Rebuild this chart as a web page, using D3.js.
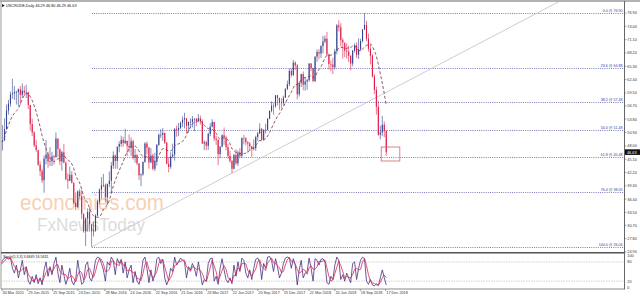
<!DOCTYPE html>
<html><head><meta charset="utf-8">
<script src="https://cdn.jsdelivr.net/npm/d3@7"></script>
<style>html,body{margin:0;padding:0;background:#fff;overflow:hidden}svg{display:block}</style>
</head><body><svg id="c" width="640" height="298"></svg>
<script>
// ---------- DATA (weekly bars) ----------
const title = "USCRUDE,Daily  46.29 46.80 46.29 46.63";
const firstWeek = "2015-03-23";
const firstOpen = 46.7;
const closes = [
48.9,49.1,51.6,55.7,57.2,59.2,59.4,59.7,59.7,60.3,
59.1,60.0,59.6,59.6,56.9,52.7,50.9,48.1,47.1,43.9,
42.5,40.5,45.2,46.1,44.6,44.7,45.7,45.5,49.6,47.3,
44.6,46.6,44.3,40.7,40.4,41.7,40.0,35.6,34.7,38.1,
37.0,33.2,29.4,32.2,33.6,30.9,29.4,29.6,32.8,35.9,
38.5,39.4,39.5,36.8,39.7,40.4,43.7,45.9,44.7,47.8,
48.4,49.3,48.6,49.1,48.0,47.6,49.0,45.4,46.0,44.2,
41.6,41.8,44.5,48.5,47.6,44.4,45.9,43.0,44.5,48.2,
50.4,50.4,50.8,48.7,44.1,43.4,45.7,46.1,51.7,51.5,
51.9,53.0,53.7,54.0,52.4,53.2,53.2,53.8,53.9,53.4,
54.0,53.3,48.5,48.8,48.0,50.6,52.2,53.2,49.6,49.3,
46.2,47.8,50.3,49.8,47.7,45.8,44.7,43.0,46.0,44.2,
46.5,45.8,49.7,49.6,48.8,48.5,47.9,47.3,47.5,49.9,
50.7,51.7,49.3,51.5,51.5,53.9,55.6,56.7,56.6,59.0,
58.4,57.4,57.3,58.5,60.4,61.4,64.3,63.4,66.1,65.5,
59.2,61.7,63.6,61.3,62.0,62.3,65.9,64.9,62.1,67.4,
68.4,68.1,69.7,70.7,71.3,67.9,65.8,65.7,65.1,68.6,
74.2,73.8,71.0,70.5,68.7,68.5,67.6,65.9,68.7,69.8,
67.8,69.0,70.8,73.3,74.3,71.3,69.1,67.6,63.1,60.2,
56.5,50.4,50.9,52.6,51.2,46.6];
const highs = [
52.5,52.5,54.0,57.0,58.0,59.8,62.6,61.0,60.0,60.5,
61.0,61.6,61.0,61.3,59.8,56.9,53.9,51.2,49.2,47.0,
44.6,43.0,45.9,49.3,46.7,47.7,46.7,46.0,50.9,49.6,
47.4,46.9,48.4,44.6,42.0,43.5,42.5,40.0,37.9,38.3,
38.6,38.4,33.3,32.4,34.4,34.5,30.9,31.5,33.2,36.3,
38.7,41.2,41.9,39.8,39.8,42.4,44.5,46.8,46.1,47.9,
49.0,50.2,50.0,51.7,49.1,50.5,49.8,49.3,47.3,46.2,
44.2,42.0,44.6,48.8,48.9,47.8,47.5,46.3,46.5,48.4,
50.7,51.6,51.9,50.9,48.8,45.6,46.6,48.5,51.8,52.4,
53.0,53.3,54.4,55.2,54.0,53.3,54.0,54.5,54.0,54.0,
54.9,54.6,53.8,49.2,49.1,50.9,52.9,53.8,53.2,50.2,
49.4,48.0,50.5,52.0,50.2,48.4,46.9,44.9,46.3,47.3,
47.0,47.5,49.8,50.4,49.9,49.0,48.8,48.0,49.4,50.2,
51.0,52.9,51.9,51.6,52.8,54.0,55.7,57.7,57.3,59.0,
59.1,58.5,58.3,58.9,60.5,62.2,64.8,64.9,66.7,66.4,
65.8,61.9,63.7,64.2,63.0,62.6,66.0,66.0,65.0,67.5,
69.0,69.0,69.9,71.9,72.0,72.8,68.1,66.6,67.2,69.1,
74.5,75.3,74.7,71.4,70.0,70.3,69.8,67.7,68.9,70.3,
70.5,71.4,71.3,73.4,76.9,75.2,72.4,70.0,68.0,63.6,
60.9,57.8,52.4,54.5,53.3,51.4];
const lows = [
46.7,47.0,49.6,51.5,54.8,56.5,58.2,58.0,57.0,56.6,
57.0,58.4,58.9,58.4,56.0,51.3,50.1,47.7,46.7,43.6,
41.4,39.9,37.8,44.0,43.2,43.6,43.6,43.9,45.5,45.5,
43.8,42.6,44.3,40.6,38.6,40.3,39.8,35.3,34.0,34.5,
36.4,32.1,29.1,26.2,29.3,29.3,26.05,28.3,29.3,32.6,
35.3,36.5,39.0,35.7,35.2,39.0,37.6,43.0,43.0,43.0,
46.6,47.8,47.8,48.4,45.8,46.6,45.8,45.0,44.3,43.8,
40.6,39.2,41.5,44.3,46.1,43.0,44.2,42.7,42.5,43.7,
48.0,49.7,49.1,48.4,44.0,42.2,43.0,45.3,44.8,50.0,
50.1,51.6,52.1,51.8,50.7,50.9,51.8,52.0,51.2,52.3,
53.1,52.6,48.4,47.1,47.0,47.1,50.1,52.0,49.0,48.2,
43.8,45.3,47.7,48.2,47.0,45.2,44.3,42.05,42.9,43.8,
43.6,45.4,45.4,48.3,48.1,46.5,47.0,45.6,47.0,46.9,
49.1,50.6,49.1,49.2,50.7,51.3,53.8,55.3,54.8,56.3,
56.8,55.8,56.1,56.9,58.4,60.1,61.0,62.9,63.2,64.5,
58.1,58.7,60.8,60.1,60.0,60.2,61.9,64.2,61.8,61.9,
66.3,66.8,67.1,68.1,70.3,67.5,64.6,64.2,63.6,64.6,
67.9,72.9,69.6,67.0,67.3,67.0,66.2,64.4,65.3,68.3,
67.1,66.9,68.6,70.5,73.2,70.8,68.5,65.7,62.9,59.3,
54.8,50.2,49.4,50.1,49.9,45.8];
const stochK = [
70,85,92,95,88,93,60,45,70,30,55,85,40,65,
20,10,35,15,40,12,30,8,55,
80,35,65,40,75,95,45,15,70,40,
10,30,60,20,8,25,85,45,10,15,70,80,30,20,
45,85,95,92,75,55,20,80,70,95,85,40,90,75,88,45,80,
30,55,70,15,50,20,10,35,
85,95,60,15,55,20,40,90,95,75,88,
30,8,25,60,50,
95,70,80,92,85,80,30,65,55,75,60,35,80,45,
8,25,20,75,90,92,20,35,10,60,90,55,25,15,30,12,
70,35,80,50,92,85,45,30,55,25,60,88,92,80,
25,75,60,95,97,85,50,90,65,30,45,75,92,95,93,60,90,70,
8,55,85,30,45,50,92,60,20,
90,85,70,88,90,80,15,10,35,25,70,
95,85,25,40,20,45,30,15,75,80,25,60,85,95,
90,20,10,25,8,5,12,6,30,55,30,8];
const stochLabel = "Stoch(5,3,3) 3.6849 16.5631";
const priceTicks = ["76.90","74.00","71.10","68.20","65.30","62.40","59.50","56.70","53.80","50.90","48.00","45.10","42.20","39.30","36.40","33.50","30.70","27.80","24.90"];
const fibLevels = [0.0, 23.6, 38.2, 50.0, 61.8, 76.4, 100.0];
const fibPrices = [76.90, 64.88, 57.48, 51.48, 45.48, 38.05, 26.04];
const fibStart = "2016-02-11";
const trendA = {date:"2016-02-11", price:26.05};
const trendB = {date:"2017-06-21", price:42.05};
const boxFrom = "2018-12-01", boxTo = "2019-02-05", boxHi = 47.74, boxLo = 44.70;
const lastPrice = 46.63;
const dateLabels = ["30 Mar 2015","29 Jun 2015","25 Sep 2015","24 Dec 2015","28 Mar 2016","24 Jun 2016","22 Sep 2016","21 Dec 2016","23 Mar 2017","22 Jun 2017","20 Sep 2017","19 Dec 2017","21 Mar 2018","20 Jun 2018","18 Sep 2018","17 Dec 2018"];
const stochTicks = [100, 80, 20, 0];
const stochLevels = [80, 20];
const maPeriod = 10;

// ---------- BUILD ----------
const parse = d3.timeParse("%Y-%m-%d");
const parseLbl = d3.timeParse("%d %b %Y");
const w0 = parse(firstWeek);
const bars = closes.map((c,i)=>({
  date: d3.timeDay.offset(w0, i*7+2),
  open: i===0 ? firstOpen : closes[i-1],
  high: highs[i], low: lows[i], close: c
}));
const ma = bars.map((b,i)=>{
  const s = closes.slice(Math.max(0,i-maPeriod+1), i+1);
  return {date:b.date, v:d3.mean(s)};
});
const stoch = stochK.map((k,i)=>({date:bars[i].date, k, d:d3.mean(stochK.slice(Math.max(0,i-2), i+1))}));

const svg = d3.select("#c");
const FONT = "'Liberation Sans', Arial, sans-serif";
const FS = 3.8;
const x = d3.scaleTime().domain([parse("2015-03-23"), parse("2018-12-17")]).range([0, 385.7]);
const y = d3.scaleLinear().domain([24.9, 76.9]).range([252, 13]);
const ys = d3.scaleLinear().domain([0, 100]).range([287.5, 255.5]);
const RIGHT = 624.5;

svg.append("rect").attr("width",640).attr("height",298).attr("fill","#fff");
const defs = svg.append("defs");
defs.append("clipPath").attr("id","mainclip").append("rect").attr("x",1.5).attr("y",2).attr("width",RIGHT-1.5).attr("height",250);
defs.append("clipPath").attr("id","subclip").append("rect").attr("x",1.5).attr("y",253.5).attr("width",RIGHT-1.5).attr("height",35);

// watermark
svg.append("text").attr("x",20).attr("y",210).attr("font-family",FONT).attr("font-size",22)
  .attr("fill","#f8d0b4").attr("textLength",144).attr("lengthAdjust","spacingAndGlyphs").text("economies.com");
svg.append("text").attr("x",37).attr("y",231).attr("font-family",FONT).attr("font-size",18)
  .attr("fill","#dcdcdc").attr("textLength",108).attr("lengthAdjust","spacingAndGlyphs").text("FxNewsToday");

const main = svg.append("g").attr("clip-path","url(#mainclip)");

// fib lines
main.selectAll(".fib").data(fibPrices).join("line")
  .attr("x1", x(parse(fibStart))).attr("x2", RIGHT)
  .attr("y1", d=>Math.round(y(d))+0.5).attr("y2", d=>Math.round(y(d))+0.5)
  .attr("stroke","#5a5aaa").attr("stroke-width",0.8).attr("stroke-dasharray","1,1.2");
main.selectAll(".fibl").data(fibPrices).join("text")
  .attr("x", RIGHT-2).attr("y", d=>Math.round(y(d))-0.6)
  .attr("text-anchor","end").attr("font-family",FONT).attr("font-size",3.6).attr("fill","#35359a")
  .text((d,i)=>`${fibLevels[i].toFixed(1)} @ ${d.toFixed(2)}`);

// trend line
const tA = parse(trendA.date), tB = parse(trendB.date);
const slope = (trendB.price - trendA.price)/(tB - tA);
const tEnd = parse("2021-06-01");
main.append("line")
  .attr("x1", x(tA)).attr("y1", y(trendA.price))
  .attr("x2", x(tEnd)).attr("y2", y(trendA.price + slope*(tEnd - tA)))
  .attr("stroke","#c8c8c8").attr("stroke-width",0.9);

// candles
const bullC = "#34438f", bearC = "#dc1c46";
main.selectAll(".wick").data(bars).join("line")
  .attr("x1", d=>x(d.date)).attr("x2", d=>x(d.date))
  .attr("y1", d=>y(d.high)).attr("y2", d=>y(d.low))
  .attr("stroke", d=>d.close>=d.open?bullC:bearC).attr("stroke-width",0.6);
main.selectAll(".body").data(bars).join("rect")
  .attr("x", d=>x(d.date)-0.55).attr("width",1.1)
  .attr("y", d=>y(Math.max(d.open,d.close)))
  .attr("height", d=>Math.max(0.6, Math.abs(y(d.open)-y(d.close))))
  .attr("fill", d=>d.close>=d.open?bullC:bearC);

// moving average dashed
main.append("path").datum(ma)
  .attr("d", d3.line().x(d=>x(d.date)).y(d=>y(d.v)).curve(d3.curveMonotoneX))
  .attr("fill","none").attr("stroke","#7d4656").attr("stroke-width",0.9).attr("stroke-dasharray","3,2");

// red box
main.append("rect")
  .attr("x", x(parse(boxFrom))).attr("y", y(boxHi))
  .attr("width", x(parse(boxTo)) - x(parse(boxFrom))).attr("height", y(boxLo)-y(boxHi))
  .attr("fill","none").attr("stroke","#d9606a").attr("stroke-width",0.8);

// title
svg.append("path").attr("d","M2,4 L4.8,5.6 L2,7.2 Z").attr("fill","#222");
svg.append("text").attr("x",6).attr("y",7).attr("font-family",FONT).attr("font-size",FS).attr("fill","#111").text(title);

// frame
svg.append("line").attr("x1",0).attr("x2",640).attr("y1",1).attr("y2",1).attr("stroke","#9a9a9a").attr("stroke-width",1.4);
svg.append("line").attr("x1",1).attr("x2",1).attr("y1",1).attr("y2",289).attr("stroke","#9a9a9a").attr("stroke-width",1);
svg.append("line").attr("x1",RIGHT).attr("x2",RIGHT).attr("y1",1).attr("y2",289.5).attr("stroke","#666").attr("stroke-width",1);
svg.append("line").attr("x1",1).attr("x2",RIGHT).attr("y1",252.7).attr("y2",252.7).attr("stroke","#555").attr("stroke-width",1.5);
svg.append("line").attr("x1",1).attr("x2",RIGHT).attr("y1",289).attr("y2",289).attr("stroke","#888").attr("stroke-width",1);

// price axis
const pax = svg.append("g");
pax.selectAll("line").data(priceTicks).join("line")
  .attr("x1",RIGHT).attr("x2",RIGHT+2).attr("y1",d=>y(+d)).attr("y2",d=>y(+d)).attr("stroke","#666").attr("stroke-width",0.6);
pax.selectAll("text").data(priceTicks).join("text")
  .attr("x",RIGHT+2.8).attr("y",d=>y(+d)+1.4).attr("font-family",FONT).attr("font-size",FS).attr("fill","#333").text(d=>d);
svg.append("rect").attr("x",RIGHT+0.5).attr("y",y(lastPrice)-2.8).attr("width",15).attr("height",5.6).attr("fill","#111");
svg.append("text").attr("x",RIGHT+2.5).attr("y",y(lastPrice)+1.4).attr("font-family",FONT).attr("font-size",FS).attr("fill","#fff").text(lastPrice.toFixed(2));

// stochastic panel
const sub = svg.append("g").attr("clip-path","url(#subclip)");
sub.selectAll(".lvl").data(stochLevels).join("line")
  .attr("x1",1).attr("x2",RIGHT).attr("y1",d=>ys(d)).attr("y2",d=>ys(d))
  .attr("stroke","#bdbdbd").attr("stroke-width",0.7).attr("stroke-dasharray","1.5,1");
sub.append("path").datum(stoch)
  .attr("d", d3.line().x(d=>x(d.date)).y(d=>ys(d.k)))
  .attr("fill","none").attr("stroke","#4a2f7e").attr("stroke-width",0.8);
sub.append("path").datum(stoch)
  .attr("d", d3.line().x(d=>x(d.date)).y(d=>ys(d.d)))
  .attr("fill","none").attr("stroke","#d8245a").attr("stroke-width",0.8);
svg.append("text").attr("x",3).attr("y",258).attr("font-family",FONT).attr("font-size",3.6).attr("fill","#222").text(stochLabel);
const sax = svg.append("g");
sax.selectAll("text").data(stochTicks).join("text")
  .attr("x",RIGHT+2.8).attr("y",d=>ys(d)+1.4).attr("font-family",FONT).attr("font-size",FS).attr("fill","#333").text(d=>d);

// date axis
const dax = svg.append("g");
dax.selectAll("line").data(dateLabels).join("line")
  .attr("x1",d=>x(parseLbl(d))).attr("x2",d=>x(parseLbl(d))).attr("y1",289).attr("y2",291)
  .attr("stroke","#666").attr("stroke-width",0.6);
dax.selectAll("text").data(dateLabels).join("text")
  .attr("x",d=>x(parseLbl(d))+0.6).attr("y",294.4).attr("font-family",FONT).attr("font-size",FS).attr("fill","#333").text(d=>d);
</script></body></html>
